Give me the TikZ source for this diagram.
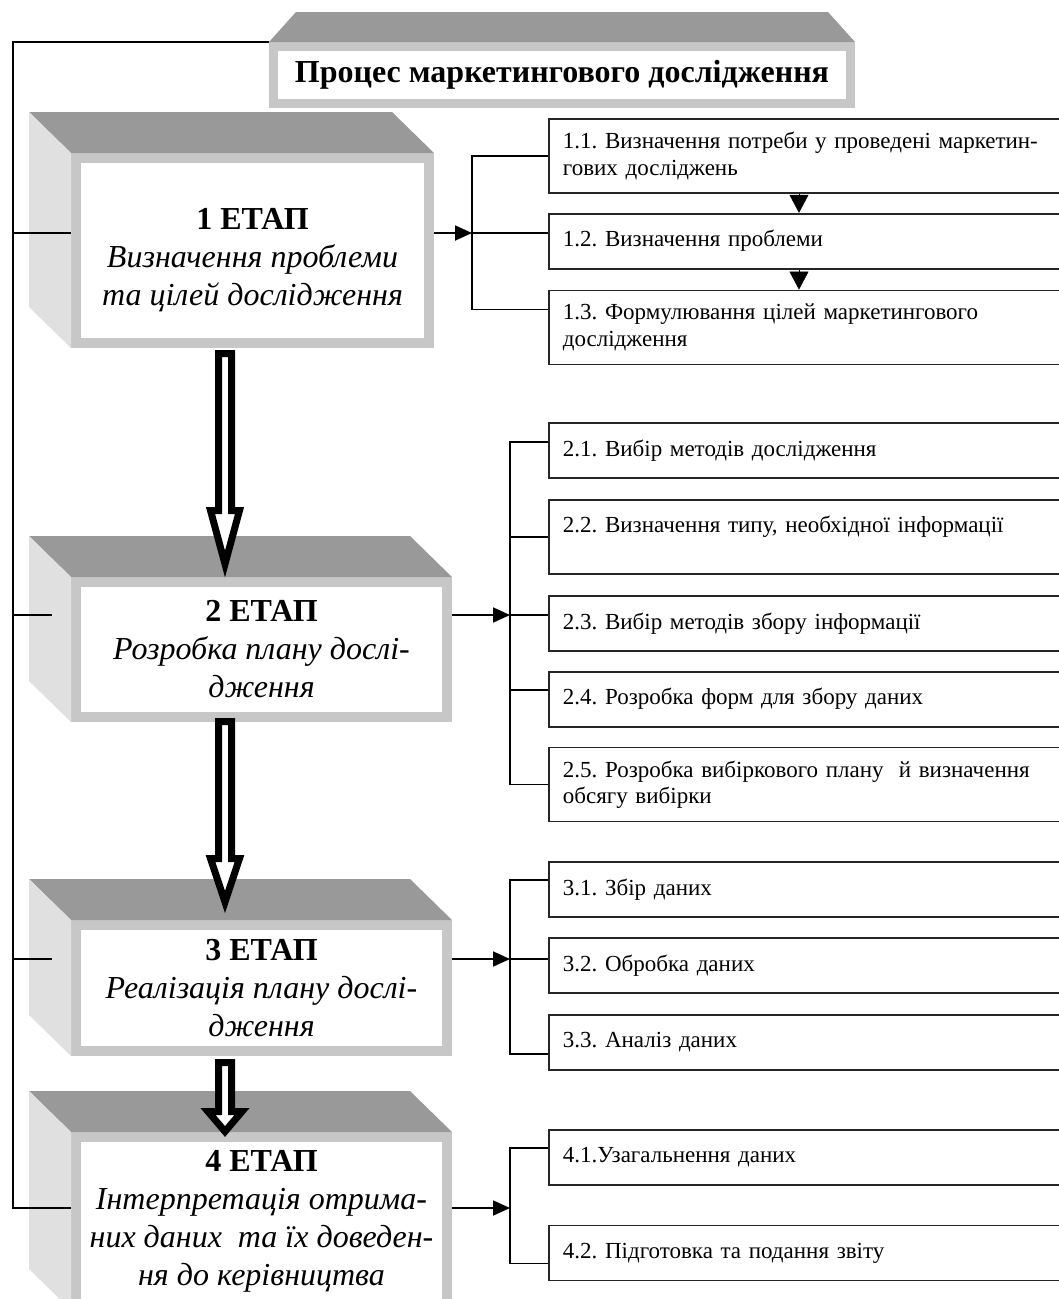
\documentclass[tikz,border=0pt]{standalone}
\usepackage{fontspec}
\setmainfont{Liberation Serif}
\usetikzlibrary{positioning, arrows.meta}
\frenchspacing

\begin{document}
\begin{tikzpicture}[
  x=1pt, y=1pt,
  font=\fontsize{23}{26.5}\selectfont,
  headbox/.style={rectangle, draw=black!22, line width=9pt, fill=white,
                  minimum width=577pt, minimum height=57pt,
                  font=\bfseries\fontsize{32}{37}\selectfont},
  stage/.style={rectangle, draw=black!22, line width=10pt, fill=white,
                align=center, inner sep=0pt,
                font=\fontsize{32}{38}\selectfont},
  topface/.style={fill=black!40},
  sideface/.style={fill=black!12},
  sub/.style={rectangle, draw=black!85, line width=1.8pt, fill=white,
              text width=500pt, inner xsep=14pt, align=left,
              minimum height=55pt},
  tall/.style={minimum height=74pt},
  link/.style={draw=black, line width=1.8pt},
  arr/.style={link, -{Triangle[length=17pt, width=15pt]}},
  mini/.style={-{Triangle[length=18pt, width=19pt]}, line width=0.4pt},
  hollow/.style={draw=black, line width=7pt, fill=white}
]
\useasboundingbox (0,0) rectangle (1059,-1299);
\clip (0,0) rectangle (1059,-1299);

% Header
\node[headbox] (ttl) at (562,-75) {Процес маркетингового дослідження};
\fill[topface] (ttl.north west) -- ++(27,30) -- ([shift={(-27,30)}]ttl.north east)
  -- (ttl.north east) -- cycle;

% Stages
\node[stage, minimum width=353pt, minimum height=185pt, anchor=north west] (s1) at (71,-153)
  {\rule{0pt}{40pt}\textbf{1 ЕТАП}\\\textit{Визначення проблеми}\\\textit{та цілей дослідження}};
\node[stage, minimum width=371pt, minimum height=135pt,
      below right=229pt and 0pt of s1.south west] (s2)
  {\textbf{2 ЕТАП}\\\textit{Розробка плану дослі-}\\\textit{дження}};
\node[stage, minimum width=371pt, minimum height=126pt, below=198pt of s2] (s3)
  {\textbf{3 ЕТАП}\\\textit{Реалізація плану дослі-}\\\textit{дження}};
\node[stage, minimum width=371pt, minimum height=168pt, below=76pt of s3] (s4)
  {\textbf{4 ЕТАП}\\\textit{Інтерпретація отрима-}\\\textit{них даних\ \ та їх доведен-}\\\textit{ня до керівництва}};

% 3D faces of the stage boxes
\foreach \s in {s1,s2,s3,s4} {
  \fill[topface] (\s.north west) -- ++(-42,41) -- ([shift={(-42,41)}]\s.north east)
    -- (\s.north east) -- cycle;
  \fill[sideface] (\s.north west) -- ++(-42,41) -- ([shift={(-42,41)}]\s.south west)
    -- (\s.south west) -- cycle;
}

% Hollow arrows between stages
\draw[hollow] ([shift={(147.5pt,-5.5pt)}]s1.south west) -- ++(0,-157) -- ++(-8,0)
  -- ++(14.5,-53.5) -- ++(14.5,53.5) -- ++(-8,0) -- ++(0,157) -- cycle;
\draw[hollow] ([shift={(147.5pt,0.5pt)}]s2.south west) -- ++(0,-137) -- ++(-8,0)
  -- ++(14.5,-43.5) -- ++(14.5,43.5) -- ++(-8,0) -- ++(0,137) -- cycle;
\draw[hollow] ([shift={(147.5pt,-6.5pt)}]s3.south west) -- ++(0,-49) -- ++(-10.5,0)
  -- ++(17,-20) -- ++(17,20) -- ++(-10.5,0) -- ++(0,49) -- cycle;

% Sub-steps
\node[sub, tall, anchor=north west] (b11) at (548,-118)
  {1.1. Визначення потреби у проведені маркетин-\\гових досліджень};
\node[sub, below=19pt of b11] (b12) {1.2. Визначення проблеми};
\node[sub, tall, below=20pt of b12] (b13) {1.3. Формулювання цілей маркетингового\\дослідження};
\node[sub, below=57pt of b13] (b21) {2.1. Вибір методів дослідження};
\node[sub, tall, below=20pt of b21] (b22) {2.2. Визначення типу, необхідної інформації\\\mbox{}};
\node[sub, below=20pt of b22] (b23) {2.3. Вибір методів збору інформації};
\node[sub, below=19pt of b23] (b24) {2.4. Розробка форм для збору даних};
\node[sub, tall, below=19pt of b24] (b25) {2.5. Розробка вибіркового плану\ \ й визначення\\обсягу вибірки};
\node[sub, below=39pt of b25] (b31) {3.1. Збір даних};
\node[sub, below=19pt of b31] (b32) {3.2. Обробка даних};
\node[sub, below=20pt of b32] (b33) {3.3. Аналіз даних};
\node[sub, below=58pt of b33] (b41) {4.1.Узагальнення даних};
\node[sub, below=39pt of b41] (b42) {4.2. Підготовка та подання звіту};

% Junctions and rail
\coordinate (j1) at ([shift={(38pt,17.5pt)}]s1.east);
\coordinate (j2) at ([shift={(58pt,34.5pt)}]s2.east);
\coordinate (j3) at ([shift={(58pt,29pt)}]s3.east);
\coordinate (j4) at ([shift={(58pt,13pt)}]s4.east);
\coordinate (r4) at ([shift={(-58pt,13pt)}]s4.west);
\coordinate (l2) at ([shift={(-19pt,34.5pt)}]s2.west);
\coordinate (l3) at ([shift={(-19pt,29pt)}]s3.west);

% Left rail
\draw[link] (ttl.north west) -| (r4) -- (r4 -| s4.west);
\draw[link] (r4 |- j1) -- (s1.west |- j1);
\draw[link] (r4 |- l2) -- (l2);
\draw[link] (r4 |- l3) -- (l3);

% Arrows to the brackets
\draw[arr] (s1.east |- j1) -- (j1);
\draw[arr] (s2.east |- j2) -- (j2);
\draw[arr] (s3.east |- j3) -- (j3);
\draw[arr] (s4.east |- j4) -- (j4);

% Brackets
\draw[link] (j1) |- (b11.west);
\draw[link] (j1) -- (j1 -| b12.west);
\draw[link] (j1) |- ([yshift=18pt]b13.west);
\draw[link] (j2) |- ([yshift=8.5pt]b21.west);
\draw[link] (j2) |- (b22.west);
\draw[link] (j2) -- (j2 -| b23.west);
\draw[link] (j2) |- ([yshift=9.5pt]b24.west);
\draw[link] (j2) |- (b25.west);
\draw[link] (j3) |- ([yshift=9.5pt]b31.west);
\draw[link] (j3) -- (j3 -| b32.west);
\draw[link] (j3) |- ([yshift=-11.5pt]b33.west);
\draw[link] (j4) |- ([yshift=9.5pt]b41.west);
\draw[link] (j4) |- ([yshift=-10.5pt]b42.west);

% Order inside stage 1
\draw[mini] ([xshift=251pt]b11.south west) -- ([xshift=251pt]b12.north west);
\draw[mini] ([xshift=251pt]b12.south west) -- ([xshift=251pt]b13.north west);
\end{tikzpicture}
\end{document}
